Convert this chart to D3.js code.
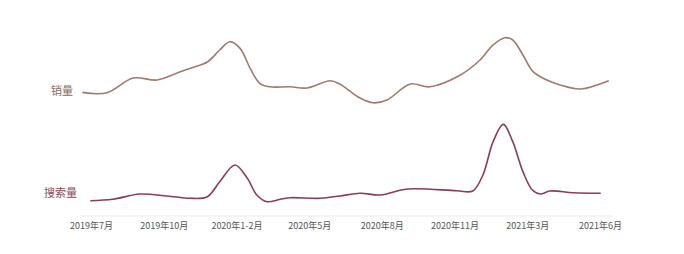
<!DOCTYPE html>
<html>
<head>
<meta charset="utf-8">
<script src="https://cdn.jsdelivr.net/npm/d3@7"></script>
<style>
  body { margin: 0; background: #fff; }
  text { font-family: "Noto Sans CJK SC", "Noto Sans", sans-serif; }
</style>
</head>
<body>
<svg id="chart"></svg>
<script>
// x positions are in "tick units": 0 = first label, 7 = last label
const tickLabels = ["2019年7月", "2019年10月", "2020年1-2月", "2020年5月", "2020年8月", "2020年11月", "2021年3月", "2021年6月"]

const salesX = [-0.12, 0.22, 0.58, 0.91, 1.22, 1.36, 1.6, 1.77, 1.91, 2.05, 2.19, 2.32, 2.46, 2.74, 2.97, 3.29, 3.42, 3.7, 3.88, 4.07, 4.39, 4.66, 5.08, 5.35, 5.53, 5.69, 5.8, 5.94, 6.08, 6.27, 6.45, 6.73, 7.12]
const salesY = [22, 21.6, 40, 37.5, 47.5, 52, 60, 75, 85.4, 77, 52, 33.4, 29, 29, 27.5, 36.6, 32.5, 15, 9, 12.5, 32.5, 29, 43.8, 62.5, 81.3, 90.4, 87.5, 68.8, 48, 37.5, 31.3, 26.3, 36.6]

const searchX = [-0.01, 0.3, 0.67, 1.05, 1.36, 1.6, 1.77, 1.98, 2.15, 2.28, 2.42, 2.6, 2.74, 3.15, 3.42, 3.7, 3.98, 4.35, 5.03, 5.25, 5.39, 5.53, 5.67, 5.8, 5.94, 6.07, 6.18, 6.31, 6.63, 7.01]
const searchY = [5, 6.7, 12.9, 10.6, 7.9, 9.8, 27.4, 47.1, 31.4, 11.8, 3.9, 6.7, 8.6, 7.9, 10.6, 13.8, 11.8, 18.8, 16.8, 16.5, 35.3, 74.5, 94.9, 74.5, 39.2, 17.6, 12.9, 16.5, 14.5, 13.8]

const width = 684
const height = 254

const svg = d3.select("#chart")
    .attr("width", width)
    .attr("height", height)

const x = d3.scaleLinear().domain([0, 7]).range([91, 600])
const ySales = d3.scaleLinear().domain([0, 100]).range([110, 30])
const ySearch = d3.scaleLinear().domain([0, 100]).range([205, 120])

// bottom axis: light baseline + labels only
const xAxis = d3.axisBottom(x)
    .tickValues(d3.range(tickLabels.length))
    .tickFormat(i => tickLabels[i])
    .tickSize(0)
    .tickPadding(7)

const axisG = svg.append("g")
    .attr("transform", "translate(0,216)")
    .call(xAxis)
axisG.select(".domain").remove()
axisG.append("line")
    .attr("x1", 80).attr("x2", 613)
    .attr("stroke", "#ececec")
axisG.selectAll(".tick text")
    .attr("fill", "#555")
    .style("font-size", "9px")

const drawLine = (xs, ys, yScale, color) => {
    const pts = xs.map((v, i) => [v, ys[i]])
    const line = d3.line()
        .x(d => x(d[0]))
        .y(d => yScale(d[1]))
        .curve(d3.curveCatmullRom.alpha(0.5))
    svg.append("path")
        .datum(pts)
        .attr("d", line)
        .attr("fill", "none")
        .attr("stroke", color)
        .attr("stroke-width", 1.6)
}

drawLine(salesX, salesY, ySales, "#a27a6c")
drawLine(searchX, searchY, ySearch, "#8c3d56")

// series labels on the left
svg.append("text")
    .attr("x", 73).attr("y", 95)
    .attr("text-anchor", "end")
    .attr("fill", "#8c6a64")
    .style("font-size", "11px")
    .text("销量")

svg.append("text")
    .attr("x", 77).attr("y", 197)
    .attr("text-anchor", "end")
    .attr("fill", "#8c4a5c")
    .style("font-size", "11px")
    .text("搜索量")
</script>
</body>
</html>
